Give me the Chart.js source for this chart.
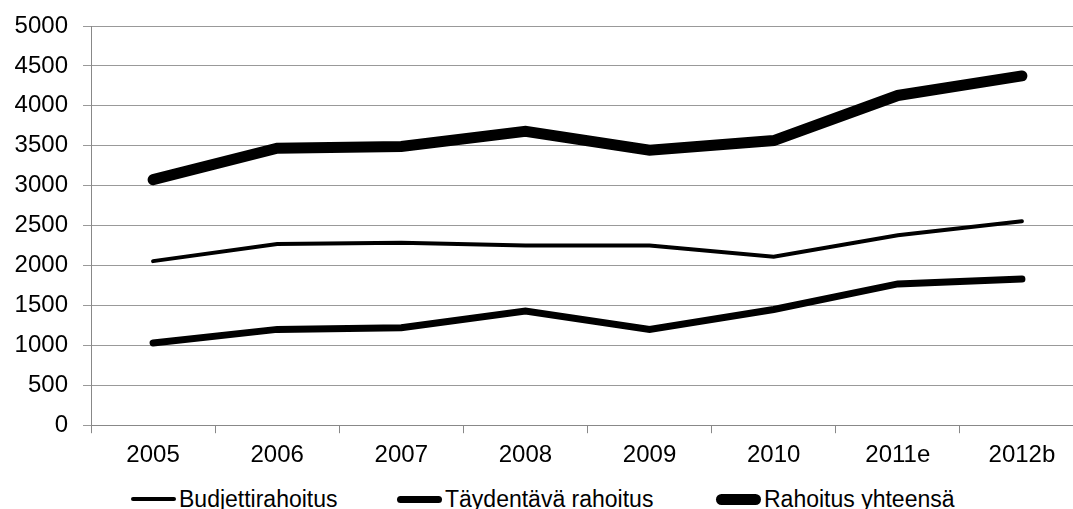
<!DOCTYPE html>
<html>
<head>
<meta charset="utf-8">
<script src="https://cdn.jsdelivr.net/npm/chart.js@4/dist/chart.umd.min.js"></script>
<style>
  html, body { margin: 0; padding: 0; background: #fff; overflow: hidden; }
  #wrap { width: 1084px; height: 515px; position: relative; }
  #plot { width: 1084px; height: 478px; position: absolute; left: 0; top: 0; }
  #legend {
    position: absolute; left: 0; top: 485px; width: 1084px; height: 28px;
    font: 23px 'Liberation Sans', Arial, sans-serif; line-height: 28px; color: #000;
  }
  #legend .item { position: absolute; top: 0; display: flex; align-items: center; white-space: nowrap; height: 28px; }
  #legend .swatch { display: inline-block; width: 45px; background: #000; }
  #legend .txt { margin-left: 3px; }
</style>
</head>
<body>
<div id="wrap">
  <div id="plot"><canvas id="chart"></canvas></div>
  <div id="legend"></div>
</div>
<script>
"use strict";

// ── Data ────────────────────────────────────────────────────────────────
const YEARS = ["2005", "2006", "2007", "2008", "2009", "2010", "2011e", "2012b"];
const BUDJETTI = [2055, 2270, 2285, 2250, 2250, 2110, 2380, 2555];
const TAYDENTAVA = [1030, 1200, 1220, 1430, 1200, 1450, 1770, 1830];
const YHTEENSA = [3075, 3470, 3490, 3680, 3445, 3565, 4130, 4375];

Chart.defaults.font.family = "'Liberation Sans', Arial, sans-serif";
Chart.defaults.font.size = 24;
Chart.defaults.color = "#000";

function series(label, data, width) {
  return {
    label,
    data,
    borderColor: "#000",
    backgroundColor: "#000",
    borderWidth: width,
    borderCapStyle: "round",
    borderJoinStyle: "miter",
    pointRadius: 0,
    pointHoverRadius: 0,
    tension: 0,
  };
}

const chart = new Chart(document.getElementById("chart"), {
  type: "line",
  data: {
    labels: YEARS,
    datasets: [
      series("Budjettirahoitus", BUDJETTI, 4),
      series("Täydentävä rahoitus", TAYDENTAVA, 7),
      series("Rahoitus yhteensä", YHTEENSA, 11),
    ],
  },
  options: {
    responsive: true,
    maintainAspectRatio: false,
    animation: false,
    layout: { padding: { top: 26, left: 0, right: 0, bottom: 0 } },
    plugins: {
      tooltip: { enabled: false },
      legend: { display: false },
    },
    scales: {
      x: {
        offset: true,
        grid: {
          offset: true,
          drawOnChartArea: false,
          color: "#888",
          tickLength: 8,
        },
        border: { color: "#888" },
        ticks: { padding: 8, maxRotation: 0 },
      },
      y: {
        min: 0,
        max: 5000,
        grid: { color: "#999", tickLength: 8 },
        border: { color: "#888" },
        ticks: { stepSize: 500, padding: 15, callback: v => String(v) },
        afterFit: s => { s.width = 91; s.paddingTop = 0; s.paddingBottom = 0; },
      },
    },
  },
});

// ── Legend (line samples under the plot) ────────────────────────────────
const legendEl = document.getElementById("legend");
const legendLeft = [131, 397, 716];
chart.data.datasets.forEach((ds, i) => {
  const item = document.createElement("span");
  item.className = "item";
  item.style.left = legendLeft[i] + "px";
  const sw = document.createElement("span");
  sw.className = "swatch";
  sw.style.height = ds.borderWidth + "px";
  sw.style.borderRadius = ds.borderWidth / 2 + "px";
  const txt = document.createElement("span");
  txt.className = "txt";
  txt.textContent = ds.label;
  item.append(sw, txt);
  legendEl.appendChild(item);
});
</script>
</body>
</html>
